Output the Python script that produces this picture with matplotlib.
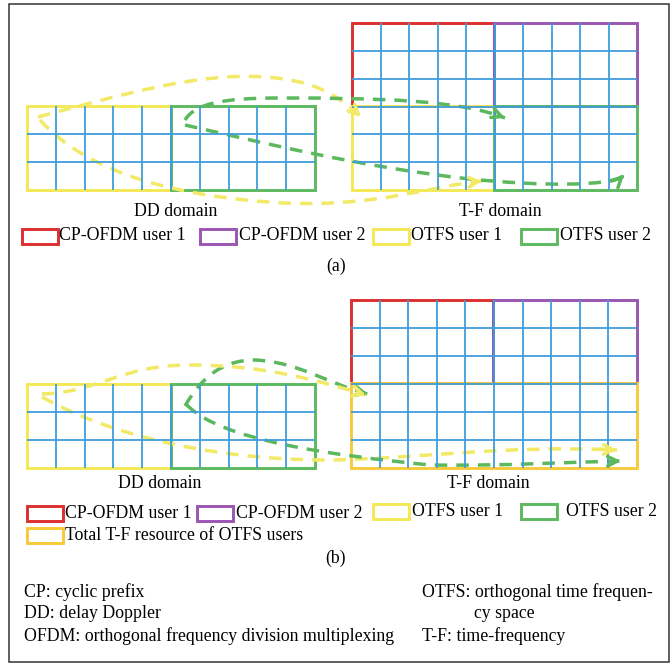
import matplotlib.pyplot as plt
from matplotlib.patches import Rectangle, PathPatch
from matplotlib.path import Path

plt.rcParams['font.family'] = ['Liberation Serif', 'DejaVu Serif']

# colours
GRID = "#3f9ddc"
RED = "#dc3030"
PURPLE = "#9b55b3"
YELLOW = "#f4e955"
GREEN = "#5dba5f"
GOLD = "#f8ca3a"
DASH_Y = "#f2e967"
DASH_G = "#5cb85c"

# resource blocks: (x0, y0, x1, y1, colour), pixel layout
blocks_a = [
    (27, 106, 171, 190, YELLOW), (171, 106, 315, 190, GREEN),
    (352, 23, 494, 106, RED), (494, 23, 637, 106, PURPLE),
    (352, 106, 494, 190, YELLOW), (494, 106, 637, 190, GREEN),
]
blocks_b = [
    (27, 384, 171, 468, YELLOW), (171, 384, 315, 468, GREEN),
    (351, 300, 493, 383, RED), (493, 300, 637, 383, PURPLE),
    (351, 383, 637, 468, GOLD),
]
# grids: (x0, y0, x1, y1, ncols, nrows)
grids = [
    (27, 106, 315, 190, 10, 3), (352, 23, 637, 190, 10, 6),
    (27, 384, 315, 468, 10, 3), (351, 300, 637, 468, 10, 6),
]

# dashed mapping curves: cubic bezier control points (start, c1, c2, end, ...)
curves = [
    (DASH_Y, [(38, 117), (120, 95), (200, 72), (265, 77), (310, 80), (335, 92), (361, 117)]),
    (DASH_Y, [(40, 120), (90, 175), (180, 197), (283, 203), (380, 207), (430, 186), (482, 181)]),
    (DASH_G, [(185, 120), (195, 104), (220, 98), (280, 98), (380, 98), (460, 100), (505, 118)]),
    (DASH_G, [(185, 125), (260, 142), (360, 167), (470, 179), (540, 186), (612, 187), (624, 175)]),
    (DASH_G, [(185, 406), (200, 380), (220, 360), (255, 360), (300, 362), (330, 385), (368, 394)]),
    (DASH_Y, [(42, 394), (100, 392), (120, 365), (190, 365), (260, 365), (310, 378), (366, 395)]),
    (DASH_Y, [(42, 397), (100, 430), (200, 460), (330, 460), (430, 458), (500, 445), (617, 450)]),
    (DASH_G, [(187, 405), (220, 440), (330, 455), (430, 465), (510, 466), (570, 462), (621, 461)]),
]

# legends: (box x, y centre, text x, colour, label)
legend_a = [(22, 236, 59, RED, "CP-OFDM user 1"), (200, 236, 239, PURPLE, "CP-OFDM user 2"),
            (373, 236, 411, YELLOW, "OTFS user 1"), (521, 236, 560, GREEN, "OTFS user 2")]
legend_b = [(27, 513, 65, RED, "CP-OFDM user 1"), (197, 513, 236, PURPLE, "CP-OFDM user 2"),
            (373, 511, 412, YELLOW, "OTFS user 1"), (521, 511, 566, GREEN, "OTFS user 2"),
            (27, 535, 65, GOLD, "Total T-F resource of OTFS users")]

notes_left = ["CP: cyclic prefix", "DD: delay Doppler",
              "OFDM: orthogonal frequency division multiplexing"]
notes_right = ["OTFS: orthogonal time frequen-", "cy space", "T-F: time-frequency"]

fig = plt.figure(figsize=(6.72, 6.64), dpi=100)
ax = fig.add_axes([0, 0, 1, 1])
ax.set_xlim(0, 672)
ax.set_ylim(664, 0)
ax.axis("off")

# outer frame
ax.add_patch(Rectangle((9, 4), 660, 658, fill=False, ec="#333333", lw=1.1))

for x0, y0, x1, y1, nc, nr in grids:
    w = (x1 - x0) / nc
    h = (y1 - y0) / nr
    ax.vlines([x0 + w * i for i in range(1, nc)], y0, y1, color=GRID, lw=1.3)
    ax.hlines([y0 + h * j for j in range(1, nr)], x0, x1, color=GRID, lw=1.3)

for x0, y0, x1, y1, c in blocks_a + blocks_b:
    ax.add_patch(Rectangle((x0, y0), x1 - x0, y1 - y0, fill=False, ec=c, lw=2.1))

for c, pts in curves:
    codes = [Path.MOVETO] + [Path.CURVE4] * (len(pts) - 1)
    ax.add_patch(PathPatch(Path(pts, codes), fill=False, ec=c, lw=2.5,
                           ls=(0, (3.6, 2.6)), capstyle="butt"))
    (px, py), (ex, ey) = pts[-2], pts[-1]
    ax.annotate("", xy=(ex, ey), xytext=(ex - (ex - px) * 0.15, ey - (ey - py) * 0.15),
                arrowprops=dict(arrowstyle="->", color=c, lw=2.5, mutation_scale=17,
                                shrinkA=0, shrinkB=0))

fs = 12.8
ax.text(176, 211, "DD domain", ha="center", va="center", fontsize=fs)
ax.text(500, 211, "T-F domain", ha="center", va="center", fontsize=fs)
ax.text(160, 483, "DD domain", ha="center", va="center", fontsize=fs)
ax.text(488, 483, "T-F domain", ha="center", va="center", fontsize=fs)

for bx, by, tx, c, lab in legend_a + legend_b:
    ax.add_patch(Rectangle((bx, by - 7.5), 36, 15, fill=False, ec=c, lw=2.1))
    ax.text(tx, by, lab, ha="left", va="center", fontsize=fs)

ax.text(336, 266, "(a)", ha="center", va="center", fontsize=fs)
ax.text(336, 558, "(b)", ha="center", va="center", fontsize=fs)

for i, t in enumerate(notes_left):
    ax.text(24, 592 + 22 * i, t, ha="left", va="center", fontsize=fs)
for i, t in enumerate(notes_right):
    ax.text(474 if i == 1 else 422, 592 + 22 * i, t, ha="left", va="center", fontsize=fs)

fig.savefig("out.png", dpi=100)
